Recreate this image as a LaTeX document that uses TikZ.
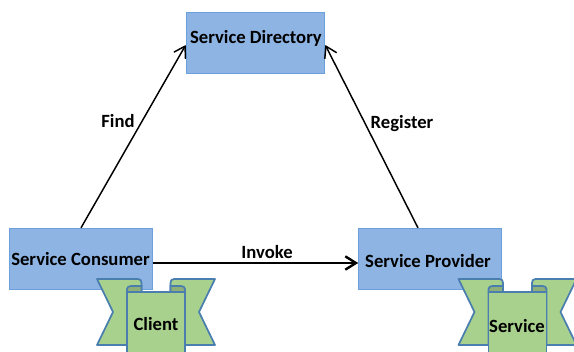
\documentclass[tikz,border=0pt]{standalone}
\usepackage{fontspec}
\setmainfont{Carlito}
\usetikzlibrary{arrows.meta}
\definecolor{srvblue}{HTML}{8EB4E3}
\definecolor{srvedge}{HTML}{6CA0DC}
\definecolor{ribgreen}{HTML}{A9D18E}
\definecolor{ribdark}{HTML}{8FAF78}
\definecolor{ribedge}{HTML}{4A7EAE}
\tikzset{
  srvbox/.style={draw=srvedge, fill=srvblue, line width=0.7pt, minimum height=46pt, inner sep=0pt},
  srvtext/.style={font=\fontsize{14}{16}\selectfont\bfseries, inner sep=0pt},
  conn/.style={-{Straight Barb[length=8pt,width=10pt]}, line width=1.1pt},
  ribbon/.pic={
    \draw[draw=ribedge, fill=ribgreen, line width=1.3pt, line join=round]
      (-59,0) -- (-18,0) .. controls (-15.5,0) and (-14.5,1.5) .. (-14.5,4) -- (-14.5,14) -- (-29,14)
      -- (-29,66) -- (-59,66) -- (-43,33) -- cycle;
    \draw[draw=ribedge, fill=ribgreen, line width=1.3pt, line join=round]
      (59,0) -- (18,0) .. controls (15.5,0) and (14.5,1.5) .. (14.5,4) -- (14.5,14) -- (29,14)
      -- (29,66) -- (59,66) -- (43,33) -- cycle;
    \draw[draw=ribedge, fill=ribdark, line width=1.3pt]
      (-29,13) -- (-29,10) .. controls (-29,8) and (-27,7) .. (-25,7) -- (-14.5,7) -- (-14.5,13) -- cycle;
    \draw[draw=ribedge, fill=ribdark, line width=1.3pt]
      (29,13) -- (29,10) .. controls (29,8) and (27,7) .. (25,7) -- (14.5,7) -- (14.5,13) -- cycle;
    \draw[draw=ribedge, fill=ribgreen, line width=1.3pt]
      (-29,13) -- (29,13) -- (29,85) -- (-29,85) -- cycle;
  }
}
\begin{document}
\begin{tikzpicture}[x=0.75pt, y=-0.75pt]
\useasboundingbox (0,0) rectangle (574,352);
\clip (0,0) rectangle (574,352);

\node[srvbox, minimum width=104pt] (directory) at (255.5,43) {};
\node[srvbox, minimum width=107pt] (consumer) at (81,259) {};
\node[srvbox, minimum width=107pt] (provider) at (430,259) {};

\pic at (156,279) {ribbon};
\pic at (517.5,279) {ribbon};

\node[srvtext] (directory_l) at (256,38) {Service Directory};
\node[srvtext] (consumer_l) at (80.5,259) {Service Consumer};
\node[srvtext] (provider_l) at (428,261) {Service Provider};
\node[srvtext] (client_l) at (156,324) {Client};
\node[srvtext] (service_l) at (517,326) {Service};

\draw[conn] (consumer.north) -- ([yshift=-1.5pt]directory.west);
\draw[conn] ([xshift=-9pt]provider.north) -- ([yshift=-1.5pt]directory.east);
\draw[conn, line width=1.8pt] ([yshift=-3pt]consumer.east) -- ([yshift=-3pt]provider.west);

\node[srvtext] (find_l) at (118,121.5) {Find};
\node[srvtext] (register_l) at (402,124) {Register};
\node[srvtext] (invoke_l) at (267,252.5) {Invoke};
\end{tikzpicture}
\end{document}
